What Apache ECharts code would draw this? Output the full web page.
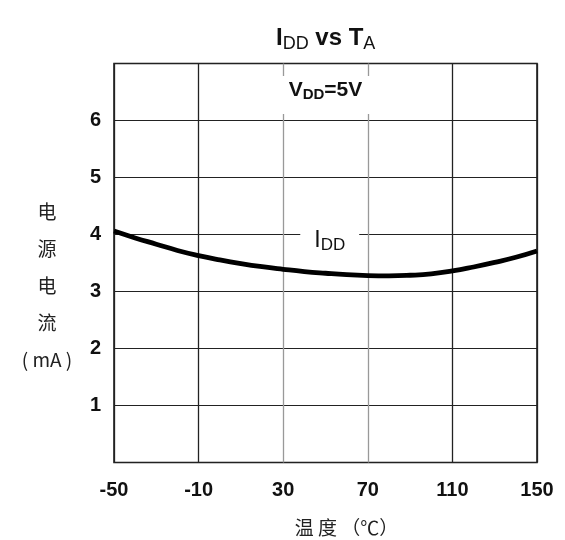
<!DOCTYPE html>
<html><head><meta charset="utf-8">
<script src="https://cdn.jsdelivr.net/npm/echarts@6/dist/echarts.min.js"></script>
<style>html,body{margin:0;padding:0;background:#fff}#c{width:565px;height:540px}</style>
</head><body><div id="c"></div>
<script>
const temps = [-50,-40,-30,-20,-10,0,10,20,30,40,50,60,70,80,90,100,110,120,130,140,150];
const idd = [4.06,3.94,3.83,3.72,3.63,3.555,3.49,3.435,3.39,3.35,3.32,3.295,3.28,3.275,3.285,3.31,3.36,3.43,3.51,3.60,3.71];
const xTicks = [-50,-10,30,70,110,150];
const yTicks = [1,2,3,4,5,6];
const yNameChars = ['电','源','电','流','( mA )'];

const FONT = '"Liberation Sans", Arial, sans-serif';
const CJK = '"Noto Sans CJK SC", "Liberation Sans", sans-serif';
const chart = echarts.init(document.getElementById('c'));
const option = {
  backgroundColor: '#fff',
  animation: false,
  title: {
    text: '{b|I}{s|DD}{b| vs T}{s|A}',
    left: 271, top: 19,
    textStyle: {
      rich: {
        b: {fontFamily: FONT, fontWeight: 'bold', fontSize: 24, color: '#111'},
        s: {fontFamily: FONT, fontWeight: 'normal', fontSize: 18, color: '#111', padding: [11,0,0,0]}
      }
    }
  },
  grid: {show: true, left: 114, right: 28, top: 63.5, bottom: 77.5, outerBoundsMode: 'none', containLabel: false,
    borderColor: '#111', borderWidth: 1.5, backgroundColor: 'transparent'},
  xAxis: {
    type: 'value', min: -50, max: 150, interval: 40,
    axisLine: {show: false}, axisTick: {show: false},
    axisLabel: {margin: 18, fontFamily: FONT, fontWeight: 'bold', fontSize: 20, color: '#111',
      formatter: v => xTicks.includes(v) ? String(v) : ''},
    splitLine: {show: true, lineStyle: {color: ['#222','#222','#999','#999','#222','#222'], width: 1.3}},
    name: '温 度 （℃）', nameLocation: 'middle', nameGap: 56,
    nameTextStyle: {fontFamily: CJK, fontSize: 19, color: '#222', padding: [0,0,0,42]}
  },
  yAxis: {
    type: 'value', min: 0, max: 7, interval: 1,
    axisLine: {show: false}, axisTick: {show: false},
    axisLabel: {margin: 13, fontFamily: FONT, fontWeight: 'bold', fontSize: 20, color: '#111',
      formatter: v => yTicks.includes(v) ? String(v) : ''},
    splitLine: {show: true, lineStyle: {color: '#222', width: 1.2}}
  },
  series: [{
    type: 'line', smooth: true, showSymbol: false,
    data: temps.map((t, i) => [t, idd[i]]),
    lineStyle: {color: '#000', width: 4.8}
  }]
};
chart.setOption(option);
const pV = chart.convertToPixel({gridIndex: 0}, [50, 6.5]);
const pI = chart.convertToPixel({gridIndex: 0}, [52, 4]);
chart.setOption({
  graphic: [
    {type: 'text', x: 47, y: 193.5, z: 100,
     style: {text: yNameChars.join('\n'), align: 'center', verticalAlign: 'top', lineHeight: 37,
       fontFamily: CJK, fontSize: 19, fill: '#222'}},
    {type: 'text', x: pV[0], y: pV[1] + 3, z: 100,
     style: {text: '{b|V}{s|DD}{b|=5V}', align: 'center', verticalAlign: 'middle',
       backgroundColor: '#fff', padding: [3, 10, 12, 10],
       rich: {b: {fontFamily: FONT, fontWeight: 'bold', fontSize: 21, fill: '#111'},
              s: {fontFamily: FONT, fontWeight: 'bold', fontSize: 15, fill: '#111', padding: [8,0,0,0]}}}},
    {type: 'text', x: pI[0], y: pI[1] + 6, z: 100,
     style: {text: '{b|I}{s|DD}', align: 'center', verticalAlign: 'middle',
       backgroundColor: '#fff', padding: [4, 14, 4, 14],
       rich: {b: {fontFamily: FONT, fontSize: 23, fill: '#111'},
              s: {fontFamily: FONT, fontSize: 17, fill: '#111', padding: [10,0,0,0]}}}}
  ]
});
</script></body></html>
